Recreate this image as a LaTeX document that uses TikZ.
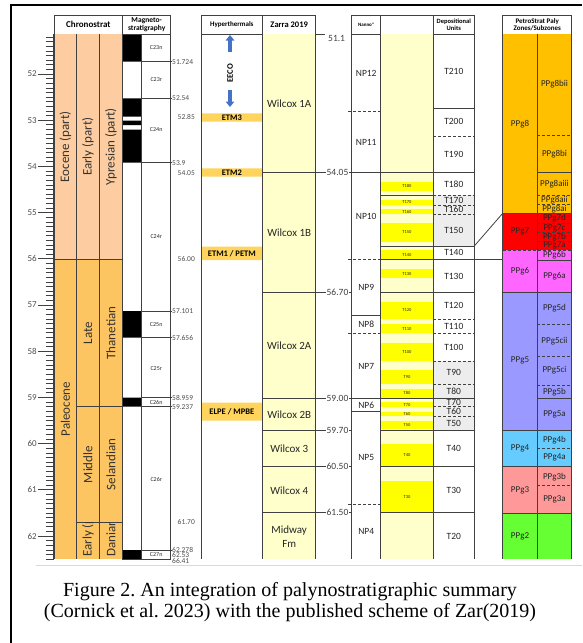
\documentclass[tikz,border=0pt]{standalone}
\usepackage{fontspec}
\setmainfont{Carlito}
\newfontfamily\capfont{Liberation Serif}
\usetikzlibrary{arrows.meta}
\frenchspacing

\definecolor{eocene}{HTML}{FDCDA1}
\definecolor{paleo}{HTML}{FDC462}
\definecolor{zarra}{HTML}{FFFFCC}
\definecolor{hyper}{HTML}{FFD45C}
\definecolor{band}{HTML}{FFFF00}
\definecolor{unitgray}{HTML}{EDEDED}
\definecolor{eeco}{HTML}{4472C4}
\definecolor{ppgviii}{HTML}{FFC000}
\definecolor{ppgvii}{HTML}{FF0000}
\definecolor{ppgvi}{HTML}{FF66FF}
\definecolor{ppgv}{HTML}{9999FF}
\definecolor{ppgiv}{HTML}{66CCFF}
\definecolor{ppgiii}{HTML}{FF9999}
\definecolor{ppgii}{HTML}{66FF33}
\definecolor{ink}{HTML}{404040}

\begin{document}
\begin{tikzpicture}[x=1pt, y=-1pt,
  fs/.style={font=\fontsize{#1}{#1}\selectfont},
  bline/.style={draw=ink, line width=0.8pt},
  dline/.style={draw=ink, line width=0.8pt, dash pattern=on 3pt off 2pt},
  txt/.style={inner sep=0pt, text=black!85, fs=#1},
  head/.style={draw=ink, line width=0.8pt, fill=white, align=center, inner sep=0pt, minimum height=18.3pt, font=\bfseries\fontsize{#1}{#1}\selectfont},
  chrono/.style={inner sep=0pt, rotate=90, fs=13, text=black!80},
  age/.style={inner sep=0pt, fs=7.5, text=black!70},
  zage/.style={inner sep=1pt, fill=white, fs=9.5, text=black!75},
  htxt/.style={inner sep=0pt, font=\bfseries\fontsize{8.5}{8.5}\selectfont},
  eecoarrow/.style={eeco, line width=3.6pt, -{Triangle[width=8.5pt,length=5.5pt]}},
  capline/.style={anchor=base, inner sep=0pt, font=\capfont\fontsize{20}{20}\selectfont}
]
  \useasboundingbox (0,0) rectangle (582,643);

  % frame and caption rule
  \draw[line width=2pt] (11,643) -- (11,5) -- (582,5);
  \draw[black!15, line width=0.6pt] (36,565.5) -- (582,565.5);

  % headers
  \node[head=9, minimum width=68.7pt] (hchrono) at (88.35,24.85) {Chronostrat};
  \node[head=7.5, minimum width=48pt] (hmagneto) at (146.7,24.85) {Magneto-\\stratigraphy};
  \node[head=7, minimum width=61.7pt] (hhyper) at (231.85,24.85) {Hyperthermals};
  \node[head=8.5, minimum width=53pt] (hzarra) at (289.2,24.85) {Zarra 2019};
  \node[head=5, minimum width=29pt] (hnanno) at (366.2,24.85) {Nanno*};
  \node[head=5, minimum width=52.6pt] (hbands) at (407,24.85) {};
  \node[head=6.5, minimum width=41pt] (hunits) at (453.8,24.85) {Depositional\\Units};
  \node[head=7, minimum width=69pt] (hpetro) at (537.2,24.85) {PetroStrat Paly\\Zones/Subzones};

  % age ruler
  \draw[bline] (53.5,34) -- (53.5,559);
  \foreach \i in {0,...,113}
    \draw[ink, line width=0.6pt] (45.5,{37+\i*4.62}) -- (53.5,{37+\i*4.62});
  \foreach \a [count=\k] in {52,...,62}
    \draw[ink, line width=0.7pt] (38,{74+(\a-52)*46.2}) -- (53.5,{74+(\a-52)*46.2})
      node[age, fs=9, anchor=east, pos=0, xshift=-1pt] (tick\k) {\a};

  % chronostratigraphy
  \fill[eocene] (54,34) rectangle (122.7,259.5);
  \fill[paleo] (54,259.5) rectangle (122.7,559);
  \draw[bline] (54,34) -- (54,559) (76.7,34) -- (76.7,559) (99.3,34) -- (99.3,559);
  \draw[bline] (54,259.5) -- (122.7,259.5) (76.7,406.7) -- (122.7,406.7) (76.7,522.3) -- (122.7,522.3);
  \node[chrono] (eocene) at (65.3,146.7) {Eocene (part)};
  \node[chrono] (early) at (88,146.7) {Early (part)};
  \node[chrono] (ypresian) at (111,146.7) {Ypresian (part)};
  \node[chrono] (paleocene) at (65.3,409.3) {Paleocene};
  \node[chrono] (late) at (88,333) {Late};
  \node[chrono] (thanetian) at (111,333) {Thanetian};
  \node[chrono] (middle) at (88,464.5) {Middle};
  \node[chrono] (selandian) at (111,464.5) {Selandian};
  \begin{scope}
    \clip (76.7,522.3) rectangle (122.7,559);
    \node[chrono, anchor=west] (earlypal) at (88,557) {Early (part)};
    \node[chrono, anchor=west] (danian) at (111,557) {Danian};
  \end{scope}

  % magnetostratigraphy
  \fill[black] (122.7,34) rectangle (141.7,61.7) (122.7,98.3) rectangle (141.7,116.7)
    (122.7,120.7) rectangle (141.7,125) (122.7,129.5) rectangle (141.7,162.7)
    (122.7,311) rectangle (141.7,337.7) (122.7,397.7) rectangle (141.7,406.7)
    (122.7,550) rectangle (141.7,559);
  \draw[bline] (122.7,34) rectangle (170.7,559) (141.7,34) -- (141.7,559);
  \foreach \y in {61.7,98.3,162.7,311,337.7,397.7,406.7,550}
    \draw[bline] (141.7,\y) -- (172,\y);
  \foreach \y/\lab [count=\k] in {48/C23n, 80/C23r, 130/C24n, 236.7/C24r, 324.3/C25n,
      368.3/C25r, 402.2/C26n, 479/C26r, 554.5/C27n}
    \node[txt=6] (chron\k) at (156.2,\y) {\lab};
  \foreach \y/\lab [count=\k] in {61.7/51.724, 98.3/52.54, 162.7/53.9, 311/57.101, 337.7/57.656,
      397.7/58.959, 406.7/59.237, 550/62.278, 555.3/62.53, 560.7/66.41}
    \node[age, anchor=west] (mage\k) at (172,\y) {\lab};
  \foreach \y/\lab [count=\k] in {117/52.85, 172.7/54.05, 259.3/56.00, 522.3/61.70}
    \node[age, anchor=east] (mtag\k) at (195,\y) {\lab};

  % hyperthermals
  \fill[hyper] (201,113.3) rectangle (262.7,121.7) (201,168.3) rectangle (262.7,176.7)
    (201,246.7) rectangle (262.7,260) (201,402.7) rectangle (262.7,420.7);
  \draw[bline] (201,34) -- (201,559);
  \node[htxt] (etm3) at (231.85,117.5) {ETM3};
  \node[htxt] (etm2) at (231.85,172.5) {ETM2};
  \node[htxt] (petm) at (231.85,253.3) {ETM1 / PETM};
  \node[htxt] (elpe) at (231.85,411.7) {ELPE / MPBE};
  \node[htxt, rotate=90] (eecolab) at (230,73) {EECO};
  \coordinate (eecoa) at (230,52);
  \coordinate (eecotop) at (230,35);
  \coordinate (eecob) at (230,89.5);
  \coordinate (eecobot) at (230,107);
  \draw[eecoarrow] (eecoa) -- (eecotop);
  \draw[eecoarrow] (eecob) -- (eecobot);

  % Zarra 2019 sequences
  \fill[zarra] (262.7,34) rectangle (315.7,559);
  \draw[bline] (262.7,34) -- (262.7,559) (315.7,34) -- (315.7,559) (315.7,34) -- (325,34);
  \node[zage, fill=none, anchor=west] (zage0) at (327,38) {51.1};
  \foreach \y/\lab [count=\k] in {172.5/54.05, 292.3/56.70, 398/59.00, 430/59.70, 466.7/60.50, 512.7/61.50}
  {
    \draw[bline] (262.7,\y) -- (351.7,\y);
    \node[zage] (zage\k) at (337.5,\y) {\lab};
  }
  \foreach \y/\lab [count=\k] in {103.3/Wilcox 1A, 232.3/Wilcox 1B, 345.7/Wilcox 2A,
      414.7/Wilcox 2B, 449/Wilcox 3, 490.3/Wilcox 4}
    \node[txt=11] (wilcox\k) at (289.2,\y) {\lab};
  \node[txt=11, font=\fontsize{11}{14}\selectfont, align=center] (midway) at (289.2,537) {Midway\\Fm};

  % nannofossil zones, sand bands and depositional units
  \fill[zarra] (380.7,34) rectangle (433.3,559);
  \fill[unitgray] (433.3,195) rectangle (474.3,246) (433.3,361) rectangle (474.3,430);
  \foreach \a/\b in {181.7/190.7, 200/205, 209.3/214, 223.3/241.7, 250/259.3, 269.3/278.3,
      301.7/319.3, 324.3/333.3, 342.7/361, 370/384, 389/397.7, 402.3/407, 411.7/416,
      420.7/429, 444/466.7, 480.7/512.7}
    \fill[band] (380.7,\a) rectangle (433.3,\b);
  \draw[bline] (351.7,34) -- (351.7,559) (380.7,34) -- (380.7,559) (433.3,34) -- (433.3,559) (474.3,34) -- (474.3,559);
  \foreach \y in {111.7, 259.7, 333.3, 504} \draw[dline] (348,\y) -- (380.7,\y);
  \foreach \y in {315, 411.7} \draw[bline] (351.7,\y) -- (380.7,\y);
  \draw[bline] (351.7,172.5) -- (474.3,172.5) (351.7,398) -- (474.3,398) (380.7,195) -- (433.3,195);
  \foreach \y in {246, 292.3, 430, 466.7, 512.7} \draw[bline] (380.7,\y) -- (474.3,\y);
  \draw[bline] (433.3,108.3) -- (474.3,108.3);
  \foreach \y in {136, 195, 205, 214, 319.3, 333.3, 361, 384, 406.7, 416}
    \draw[dline] (433.3,\y) -- (474.3,\y);
  \coordinate (t140c) at (380.7,259.7);
  \coordinate (ppg6c) at (502.7,259.7);
  \coordinate (t150c) at (474.3,246);
  \coordinate (ppg7c) at (502.7,213.3);
  \draw[bline] (t140c) -- (ppg6c);
  \draw[bline] (t150c) -- (ppg7c);
  \foreach \y/\lab [count=\k] in {73.3/NP12, 142.7/NP11, 216/NP10, 287.5/NP9, 324/NP8,
      366/NP7, 405/NP6, 457.7/NP5, 531.7/NP4}
    \node[txt=9.5] (np\k) at (366.2,\y) {\lab};
  \foreach \y/\lab [count=\k] in {186.2/T180, 202.5/T170, 211.7/T160, 232.5/T150, 254.7/T140,
      273.8/T130, 310.5/T120, 328.8/T110, 351.8/T100, 377/T90, 393.3/T80, 404.7/T70,
      413.8/T60, 424.8/T50, 455.3/T40, 496.7/T30}
    \node[txt=4.5] (band\k) at (407,\y) {\lab};
  \foreach \y/\lab [count=\k] in {71/T210, 121.7/T200, 154/T190, 184/T180, 200/T170, 209.3/T160,
      230/T150, 252.7/T140, 276/T130, 305.7/T120, 326.3/T110, 347.7/T100, 372.7/T90, 391/T80,
      402.3/T70, 411.7/T60, 423.3/T50, 448.7/T40, 490.3/T30, 536.3/T20}
    \node[txt=9.5] (unit\k) at (453.8,\y) {\lab};

  % PetroStrat palynozones
  \foreach \a/\b/\c in {34/213.3/ppgviii, 213.3/250/ppgvii, 250/292.3/ppgvi, 292.3/430/ppgv,
      430/466.7/ppgiv, 466.7/513.3/ppgiii, 513.3/559/ppgii}
    \fill[\c] (502.7,\a) rectangle (571.7,\b);
  \draw[bline] (502.7,34) -- (502.7,559) (537.3,34) -- (537.3,559) (571.7,34) -- (571.7,559);
  \foreach \y in {213.3, 292.3, 430, 466.7, 513.3} \draw[bline] (502.7,\y) -- (571.7,\y);
  \draw[dline] (502.7,250) -- (571.7,250);
  \foreach \y in {172.5, 260, 398} \draw[bline] (537.3,\y) -- (571.7,\y);
  \foreach \y in {135, 195, 204.3, 223.3, 232.7, 241.7, 324.3, 356.7, 385, 448.3, 485.7}
    \draw[dline] (537.3,\y) -- (571.7,\y);
  \foreach \y/\lab [count=\k] in {124/PPg8, 231.7/PPg7, 271.3/PPg6, 360.7/PPg5, 448.3/PPg4,
      490/PPg3, 536.7/PPg2}
    \node[txt=9] (zone\k) at (520,\y) {\lab};
  \foreach \y/\lab [count=\k] in {84/PPg8bii, 154/PPg8bi, 184/PPg8aiii, 200/PPg8aii, 209.3/PPg8ai,
      218.3/PPg7d, 228/PPg7c, 237.2/PPg7b, 245.8/PPg7a, 255/PPg6b, 276.7/PPg6a, 308.3/PPg5d,
      340.7/PPg5cii, 370/PPg5ci, 391.7/PPg5b, 414.3/PPg5a, 439.7/PPg4b, 457.7/PPg4a,
      476.7/PPg3b, 499.3/PPg3a}
    \node[txt=9] (sub\k) at (554.5,\y) {\lab};

  % caption
  \node[capline] (cap1) at (290,596) {Figure 2. An integration of palynostratigraphic summary};
  \node[capline] (cap2) at (290,617) {(Cornick et al. 2023) with the published scheme of Zar(2019)};
\end{tikzpicture}
\end{document}
